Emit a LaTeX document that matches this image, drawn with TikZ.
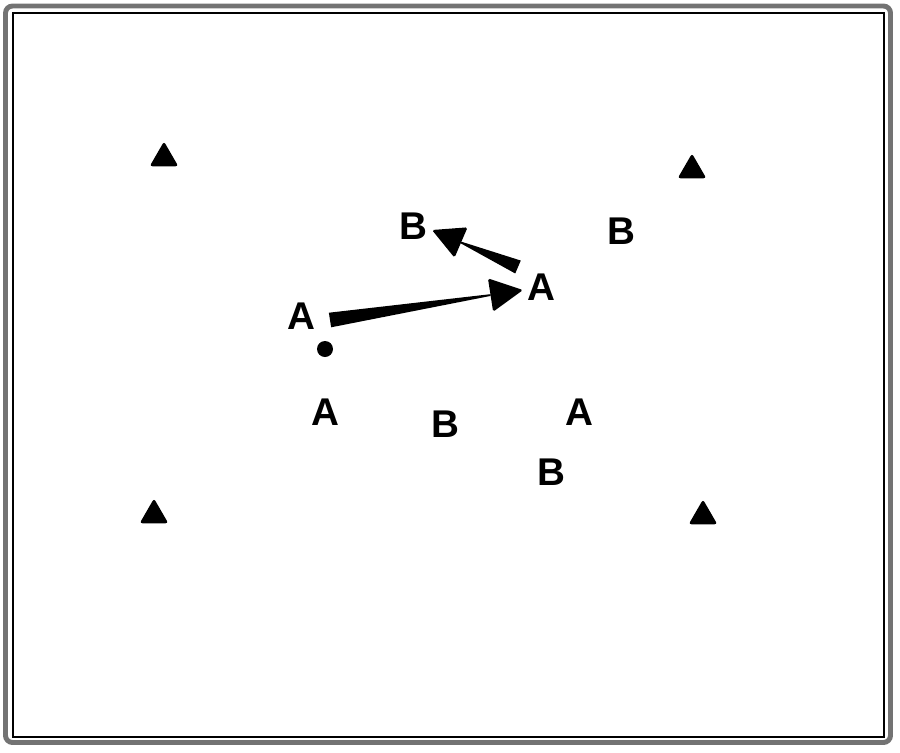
\documentclass[tikz,border=0pt]{standalone}
\usepackage{fontspec}
\setmainfont{Liberation Sans}
\usetikzlibrary{shapes.geometric}
\usetikzlibrary{calc}

\tikzset{
	cone/.style={regular polygon, regular polygon sides=3, fill=black, inner sep=0pt, minimum size=0.66cm, rounded corners=1.5pt},
	player/.style={font=\fontsize{22}{24}\selectfont\bfseries, inner sep=0pt},
	ball/.style={circle, fill=black, inner sep=0pt, minimum size=0.32cm}
}

\begin{document}
\begin{tikzpicture}[x=0.02cm,y=-0.02cm]
			\useasboundingbox (0,0) rectangle (900,752);
			
			\draw[line width=2.8pt, black!55, rounded corners=4pt] (5.5,6) rectangle (890.5,742.5);
			\draw[line width=0.6pt] (13,13) rectangle (884,737);
			
			\node[cone] (c1) at (164,158) {};
			\node[cone] (c2) at (692,170) {};
			\node[cone] (c3) at (154,515) {};
			\node[cone] (c4) at (703,516) {};
			
			\node[player] (a1) at (301,316) {A};
			\node[player] (a2) at (541,287) {A};
			\node[player] (b1) at (413,226) {B};
			\node[player] (b2) at (621,231) {B};
			\node[player] (a3) at (325,412) {A};
			\node[player] (b3) at (445,424) {B};
			\node[player] (a4) at (579,412) {A};
			\node[player] (b4) at (551,472) {B};
			
			\node[ball] (ball) at (325,349) {};
			
			% pass a1 -> a2
			\coordinate (p1s) at (330,320);
			\coordinate (p1t) at (523,290);
			\coordinate (p1b) at ($(p1t)!18.7pt!(p1s)$);
			\fill ($(p1s)!4.2pt!90:(p1t)$) -- ($(p1b)!0.5pt!-90:(p1s)$) -- ($(p1b)!0.5pt!90:(p1s)$) -- ($(p1s)!4.2pt!-90:(p1t)$) -- cycle;
			\fill[rounded corners=1pt] ($(p1b)!9.6pt!90:(p1t)$) -- (p1t) -- ($(p1b)!9.6pt!-90:(p1t)$) -- cycle;
			
			% pass a2 -> b1
			\coordinate (p2s) at (518,267);
			\coordinate (p2t) at (432,230);
			\coordinate (p2b) at ($(p2t)!18pt!(p2s)$);
			\fill ($(p2s)!4pt!90:(p2t)$) -- ($(p2b)!0.5pt!-90:(p2s)$) -- ($(p2b)!0.5pt!90:(p2s)$) -- ($(p2s)!4pt!-90:(p2t)$) -- cycle;
			\fill[rounded corners=1pt] ($(p2b)!9.4pt!90:(p2t)$) -- (p2t) -- ($(p2b)!9.4pt!-90:(p2t)$) -- cycle;
			
		\end{tikzpicture}
\end{document}
